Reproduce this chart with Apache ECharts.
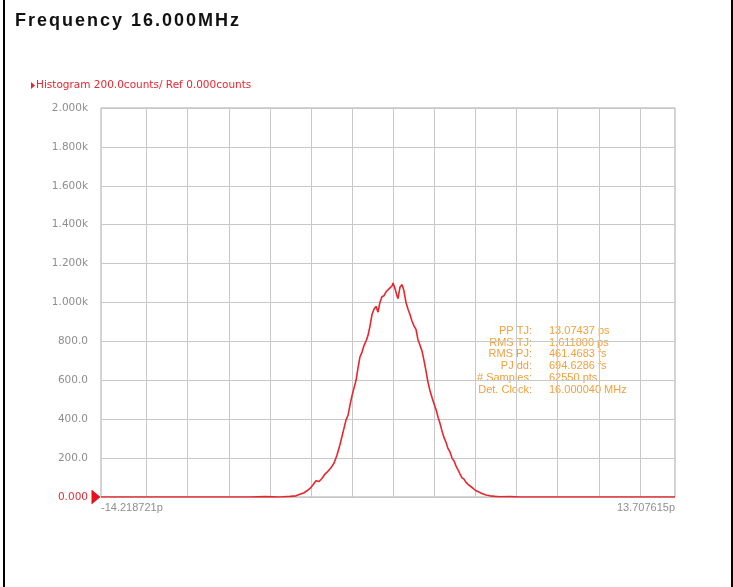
<!DOCTYPE html>
<html>
<head>
<meta charset="utf-8">
<script src="https://cdn.jsdelivr.net/npm/echarts@6/dist/echarts.min.js"></script>
<style>
  html, body { margin: 0; padding: 0; background: #fff; }
  #wrap { position: relative; width: 733px; height: 587px; overflow: hidden; }
  #chart { position: absolute; left: 0; top: 0; width: 733px; height: 587px; }
  #title { position: absolute; left: 15px; top: 11px; font: bold 18px "Liberation Sans", Arial, sans-serif;
           line-height: 18px; letter-spacing: 2px; color: #111; white-space: nowrap; }
</style>
</head>
<body>
<div id="wrap">
  <div id="chart"></div>
  <div id="title"></div>
</div>
<script>
// ---- data ----
const titleText = 'Frequency 16.000MHz';
const legendText = 'Histogram 200.0counts/ Ref 0.000counts';
const xMinPs = -14.218721;
const xMaxPs = 13.707615;
const xEndLabels = ['-14.218721p', '13.707615p'];
const yTickLabels = ['0.000', '200.0', '400.0', '600.0', '800.0', '1.000k', '1.200k', '1.400k', '1.600k', '1.800k', '2.000k'];
const vGridPs = [-12, -10, -8, -6, -4, -2, 0, 2, 4, 6, 8, 10, 12];
const statLabels = ['PP TJ:', 'RMS TJ:', 'RMS PJ:', 'PJ dd:', '# Samples:', 'Det. Clock:'];
const statValues = ['13.07437 ps', '1.611800 ps', '461.4683 fs', '694.6286 fs', '62550 pts', '16.000040 MHz'];

const timePs = [
  -14.218721, -6.97, -6.24, -5.51, -5.02, -4.73, -4.54, -4.34, -4.20, -4.05,
  -3.91, -3.76, -3.61, -3.47, -3.32, -3.18, -3.03, -2.88, -2.74, -2.59,
  -2.45, -2.30, -2.20, -2.11, -2.01, -1.91, -1.81, -1.72, -1.62, -1.52,
  -1.42, -1.33, -1.23, -1.13, -1.03, -0.94, -0.84, -0.74, -0.65, -0.55,
  -0.45, -0.35, -0.26, -0.16, -0.06, -0.01, 0.09, 0.18, 0.23, 0.33,
  0.43, 0.52, 0.62, 0.72, 0.81, 0.91, 1.01, 1.11, 1.20, 1.30,
  1.40, 1.50, 1.59, 1.69, 1.79, 1.89, 1.98, 2.08, 2.18, 2.27,
  2.37, 2.47, 2.57, 2.66, 2.76, 2.86, 2.96, 3.05, 3.15, 3.25,
  3.34, 3.44, 3.54, 3.64, 3.73, 3.88, 4.03, 4.17, 4.32, 4.51,
  4.71, 4.95, 5.19, 5.68, 6.17, 13.707615
];
const counts = [
  0, 0, 2, 0, 3, 6, 14, 22, 32, 44,
  62, 84, 80, 95, 118, 132, 150, 175, 215, 270,
  330, 395, 420, 470, 520, 560, 600, 660, 720, 745,
  780, 800, 830, 880, 940, 965, 980, 950, 1000, 1030,
  1035, 1055, 1065, 1075, 1085, 1100, 1070, 1035, 1020, 1080,
  1092, 1060, 1000, 965, 940, 905, 880, 860, 810, 780,
  750, 700, 650, 590, 545, 510, 480, 450, 410, 380,
  340, 305, 280, 250, 232, 200, 185, 160, 140, 118,
  100, 92, 75, 65, 57, 45, 32, 26, 18, 10,
  6, 3, 1, 2, 0, 0
];

document.getElementById('title').textContent = titleText;

const chart = echarts.init(document.getElementById('chart'), null, { renderer: 'canvas' });

const statGraphics = [];
statLabels.forEach(function (lab, i) {
  statGraphics.push({
    type: 'text', x: 532, y: 331 + i * 11.7,
    style: { text: lab, textAlign: 'right', textVerticalAlign: 'middle',
             font: '11px "Liberation Sans", Arial, sans-serif', fill: '#f2a03c' },
    silent: true
  });
  statGraphics.push({
    type: 'text', x: 549, y: 331 + i * 11.7,
    style: { text: statValues[i], textAlign: 'left', textVerticalAlign: 'middle',
             font: '11px "Liberation Sans", Arial, sans-serif', fill: '#f2a03c' },
    silent: true
  });
});

const labelFont = '"DejaVu Sans", Verdana, sans-serif';

const option = {
  animation: false,
  backgroundColor: '#ffffff',
  grid: { left: 101, right: 58, top: 108, bottom: 90, show: true,
          borderColor: '#a8a8a8', borderWidth: 1, backgroundColor: '#ffffff' },
  legend: {
    show: true, left: 26, top: 75, itemWidth: 4, itemHeight: 7, itemGap: 0,
    icon: 'path://M0,0 L4,3.5 L0,7 Z',
    data: [legendText],
    textStyle: { color: '#e8262e', fontSize: 10.5, fontFamily: labelFont, padding: [0, 0, 0, -4] },
    selectedMode: false
  },
  xAxis: {
    type: 'value', min: xMinPs, max: xMaxPs,
    axisLine: { show: false }, axisTick: { show: false }, splitLine: { show: false },
    axisLabel: {
      show: true, showMinLabel: true, showMaxLabel: true, hideOverlap: false,
      alignMinLabel: 'left', alignMaxLabel: 'right', margin: 5,
      color: '#8e8e8e', fontSize: 11, fontFamily: '"Liberation Sans", Arial, sans-serif',
      formatter: function (v) {
        if (Math.abs(v - xMinPs) < 1e-6) return xEndLabels[0];
        if (Math.abs(v - xMaxPs) < 1e-6) return xEndLabels[1];
        return '';
      }
    }
  },
  yAxis: {
    type: 'value', min: 0, max: 2000, interval: 200,
    axisLine: { show: false }, axisTick: { show: false },
    splitLine: { show: true, lineStyle: { color: '#c8c8c8', width: 1 } },
    axisLabel: {
      margin: 13, color: '#8e8e8e', fontSize: 10.5, fontFamily: labelFont,
      formatter: function (v) {
        const lab = yTickLabels[Math.round(v / 200)];
        return v === 0 ? '{z|' + lab + '}' : lab;
      },
      rich: { z: { color: '#e0303a', fontSize: 10.5, fontFamily: labelFont } }
    }
  },
  graphic: [
    { type: 'rect', shape: { x: 3, y: 0, width: 2, height: 587 }, style: { fill: '#000' }, silent: true },
    { type: 'rect', shape: { x: 731, y: 0, width: 2, height: 587 }, style: { fill: '#000' }, silent: true }
  ].concat(statGraphics),
  series: [
    {
      name: 'grid-x', type: 'line', data: [], z: 1, silent: true,
      markLine: {
        silent: true, z: 1, symbol: ['none', 'none'], animation: false,
        label: { show: false },
        lineStyle: { color: '#c8c8c8', width: 1, type: 'solid' },
        emphasis: { disabled: true },
        data: vGridPs.map(function (v) { return { xAxis: v }; })
      }
    },
    {
      name: legendText, type: 'line', z: 3,
      data: timePs.map(function (t, i) { return [t, counts[i]]; }),
      showSymbol: false, symbol: 'none',
      lineStyle: { color: '#e8262e', width: 1.6 },
      itemStyle: { color: '#e8262e' },
      markPoint: {
        silent: true, z: 6,
        symbol: 'path://M0,0 L10,7.5 L0,15 Z', symbolSize: [9, 15], symbolOffset: [-5, 0],
        itemStyle: { color: '#e8101a' },
        label: { show: false },
        data: [{ coord: [xMinPs, 0] }]
      }
    }
  ]
};
chart.setOption(option);
</script>
</body>
</html>
